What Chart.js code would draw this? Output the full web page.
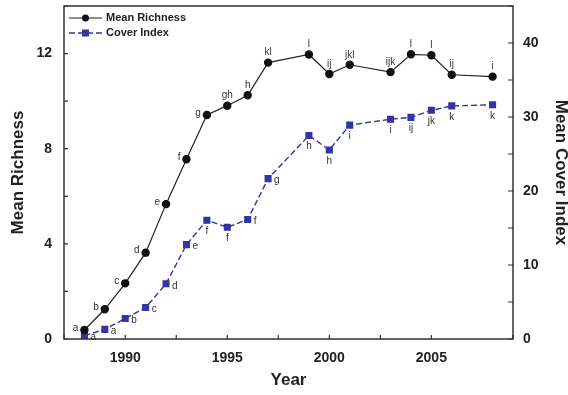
<!DOCTYPE html>
<html lang="en">
<head>
  <meta charset="UTF-8" />
  <title>Mean Richness and Cover Index</title>
  <script src="https://cdn.jsdelivr.net/npm/chart.js"></script>
  <style>
    html, body { margin: 0; padding: 0; background: #fff; }
    #wrap { width: 568px; height: 395px; }
  </style>
</head>
<body>
  <div id="wrap"><canvas id="grafico"></canvas></div>

  <script>
    // years sampled
    const years = [1988, 1989, 1990, 1991, 1992, 1993, 1994, 1995, 1996, 1997, 1999, 2000, 2001, 2003, 2004, 2005, 2006, 2008];

    // Mean Richness (left axis)
    const richness = [0.38, 1.25, 2.34, 3.63, 5.67, 7.56, 9.42, 9.81, 10.25, 11.62, 11.96, 11.14, 11.53, 11.22, 11.97, 11.93, 11.11, 11.03];
    const richnessLetters = ['a', 'b', 'c', 'd', 'e', 'f', 'g', 'gh', 'h', 'kl', 'l', 'ij', 'jkl', 'ijk', 'l', 'l', 'ij', 'i'];

    // Mean Cover Index (right axis)
    const cover = [0.45, 1.3, 2.76, 4.25, 7.46, 12.75, 16.05, 15.1, 16.15, 21.67, 27.5, 25.55, 28.9, 29.7, 29.95, 30.9, 31.5, 31.65];
    const coverLetters = ['a', 'a', 'b', 'c', 'd', 'e', 'f', 'f', 'f', 'g', 'h', 'h', 'i', 'i', 'ij', 'jk', 'k', 'k'];

    // where each letter goes relative to its point
    const richnessLabelSide = ['left', 'left', 'left', 'left', 'left', 'left', 'left', 'above', 'above', 'above', 'above', 'above', 'above', 'above', 'above', 'above', 'above', 'above'];
    const coverLabelSide = ['right', 'right', 'right', 'right', 'right', 'right', 'below', 'below', 'right', 'right', 'below', 'below', 'below', 'below', 'below', 'below', 'below', 'below'];

    const azul = '#3434a2';
    const fuente = '"Liberation Sans", Arial, Helvetica, sans-serif';

    // letras de significancia junto a cada punto
    const letrasPlugin = {
      id: 'letras',
      afterDatasetsDraw(chart) {
        const ctx = chart.ctx;
        ctx.save();
        ctx.font = '10px ' + fuente;
        ctx.fillStyle = '#333';
        const sets = [
          { meta: chart.getDatasetMeta(0), letters: richnessLetters, side: richnessLabelSide },
          { meta: chart.getDatasetMeta(1), letters: coverLetters, side: coverLabelSide }
        ];
        sets.forEach(s => {
          s.meta.data.forEach((pt, i) => {
            const lado = s.side[i];
            if (lado === 'left') {
              ctx.textAlign = 'right'; ctx.textBaseline = 'middle';
              ctx.fillText(s.letters[i], pt.x - 6, pt.y - 2);
            } else if (lado === 'right') {
              ctx.textAlign = 'left'; ctx.textBaseline = 'middle';
              ctx.fillText(s.letters[i], pt.x + 6, pt.y + 2);
            } else if (lado === 'above') {
              ctx.textAlign = 'center'; ctx.textBaseline = 'bottom';
              ctx.fillText(s.letters[i], pt.x, pt.y - 5);
            } else {
              ctx.textAlign = 'center'; ctx.textBaseline = 'top';
              ctx.fillText(s.letters[i], pt.x, pt.y + 6);
            }
          });
        });
        ctx.restore();
      }
    };

    // marco y marcas hacia adentro
    const marcoPlugin = {
      id: 'marco',
      afterDraw(chart) {
        const ctx = chart.ctx;
        const a = chart.chartArea;
        ctx.save();
        ctx.strokeStyle = '#333';
        ctx.lineWidth = 1.5;
        ctx.strokeRect(a.left, a.top, a.right - a.left, a.bottom - a.top);
        ctx.lineWidth = 1.2;
        ctx.beginPath();
        chart.scales.x.ticks.forEach(t => {
          const px = chart.scales.x.getPixelForValue(t.value);
          ctx.moveTo(px, a.bottom); ctx.lineTo(px, a.bottom - 4);
        });
        chart.scales.y.ticks.forEach(t => {
          const py = chart.scales.y.getPixelForValue(t.value);
          ctx.moveTo(a.left, py); ctx.lineTo(a.left + 4, py);
        });
        chart.scales.y2.ticks.forEach(t => {
          const py = chart.scales.y2.getPixelForValue(t.value);
          ctx.moveTo(a.right, py); ctx.lineTo(a.right - 5, py);
        });
        ctx.stroke();
        ctx.restore();
      }
    };

    // leyenda dentro del area
    const leyendaPlugin = {
      id: 'leyenda',
      afterDraw(chart) {
        const ctx = chart.ctx;
        const a = chart.chartArea;
        const x0 = a.left + 5, x1 = a.left + 38, y0 = a.top + 12, dy = 15;
        ctx.save();
        // Mean Richness
        ctx.strokeStyle = '#222'; ctx.lineWidth = 1; ctx.setLineDash([]);
        ctx.beginPath(); ctx.moveTo(x0, y0); ctx.lineTo(x1, y0); ctx.stroke();
        ctx.fillStyle = '#111';
        ctx.beginPath(); ctx.arc((x0 + x1) / 2, y0, 3.5, 0, Math.PI * 2); ctx.fill();
        // Cover Index
        ctx.strokeStyle = azul; ctx.lineWidth = 1.3; ctx.setLineDash([6, 3]);
        ctx.beginPath(); ctx.moveTo(x0, y0 + dy); ctx.lineTo(x1, y0 + dy); ctx.stroke();
        ctx.setLineDash([]);
        ctx.fillStyle = azul;
        ctx.fillRect((x0 + x1) / 2 - 3.5, y0 + dy - 3.5, 7, 7);
        ctx.fillStyle = '#222';
        ctx.font = 'bold 11px ' + fuente;
        ctx.textAlign = 'left'; ctx.textBaseline = 'middle';
        ctx.fillText('Mean Richness', x1 + 4, y0);
        ctx.fillText('Cover Index', x1 + 4, y0 + dy);
        ctx.restore();
      }
    };

    // sin relleno extra por las etiquetas, para fijar el area
    function sinRelleno(s) {
      s.paddingTop = 0; s.paddingBottom = 0; s.paddingLeft = 0; s.paddingRight = 0;
    }

    function armarGrafico() {
      new Chart(document.getElementById('grafico').getContext('2d'), {
        type: 'line',
        data: {
          datasets: [
            {
              label: 'Mean Richness',
              data: years.map((y, i) => ({ x: y, y: richness[i] })),
              yAxisID: 'y',
              borderColor: '#222',
              borderWidth: 1.2,
              pointStyle: 'circle',
              pointRadius: 3.6,
              pointBackgroundColor: '#111',
              pointBorderColor: '#111',
              tension: 0
            },
            {
              label: 'Cover Index',
              data: years.map((y, i) => ({ x: y, y: cover[i] })),
              yAxisID: 'y2',
              borderColor: azul,
              borderWidth: 1.4,
              borderDash: [6, 3],
              pointStyle: 'rect',
              pointRadius: 4,
              pointBackgroundColor: azul,
              pointBorderColor: azul,
              tension: 0
            }
          ]
        },
        options: {
          responsive: true,
          maintainAspectRatio: false,
          animation: false,
          layout: { padding: { top: 6, left: 0, right: 0, bottom: 0 } },
          plugins: { legend: { display: false }, tooltip: { enabled: false } },
          scales: {
            x: {
              type: 'linear',
              min: 1987,
              max: 2009,
              grid: { display: false, drawTicks: false },
              border: { display: false },
              ticks: {
                stepSize: 2.5,
                autoSkip: false,
                maxRotation: 0,
                padding: 11,
                color: '#222',
                font: { family: fuente, size: 14, weight: 'bold' },
                callback: v => (v % 5 === 0 ? String(v) : '')
              },
              title: {
                display: true,
                text: 'Year',
                color: '#222',
                padding: { top: 8 },
                font: { family: fuente, size: 17, weight: 'bold' }
              },
              afterFit: s => { s.height = 56; sinRelleno(s); }
            },
            y: {
              position: 'left',
              min: 0,
              max: 14,
              grid: { display: false, drawTicks: false },
              border: { display: false },
              ticks: {
                stepSize: 2,
                padding: 12,
                color: '#222',
                font: { family: fuente, size: 14, weight: 'bold' },
                callback: v => (v % 4 === 0 ? String(v) : '')
              },
              title: {
                display: true,
                text: 'Mean Richness',
                color: '#222',
                padding: { bottom: 0, top: 8 },
                font: { family: fuente, size: 17, weight: 'bold' }
              },
              afterFit: s => { s.width = 64; sinRelleno(s); }
            },
            y2: {
              position: 'right',
              min: 0,
              max: 45,
              grid: { display: false, drawTicks: false },
              border: { display: false },
              ticks: {
                stepSize: 5,
                padding: 10,
                color: '#222',
                font: { family: fuente, size: 14, weight: 'bold' },
                callback: v => (v % 10 === 0 ? String(v) : '')
              },
              title: {
                display: true,
                text: 'Mean Cover Index',
                color: '#222',
                padding: { top: -3, bottom: 0 },
                font: { family: fuente, size: 17, weight: 'bold' }
              },
              afterFit: s => { s.width = 55; sinRelleno(s); }
            }
          }
        },
        plugins: [letrasPlugin, marcoPlugin, leyendaPlugin]
      });
    }

    window.onload = armarGrafico;
  </script>
</body>
</html>
